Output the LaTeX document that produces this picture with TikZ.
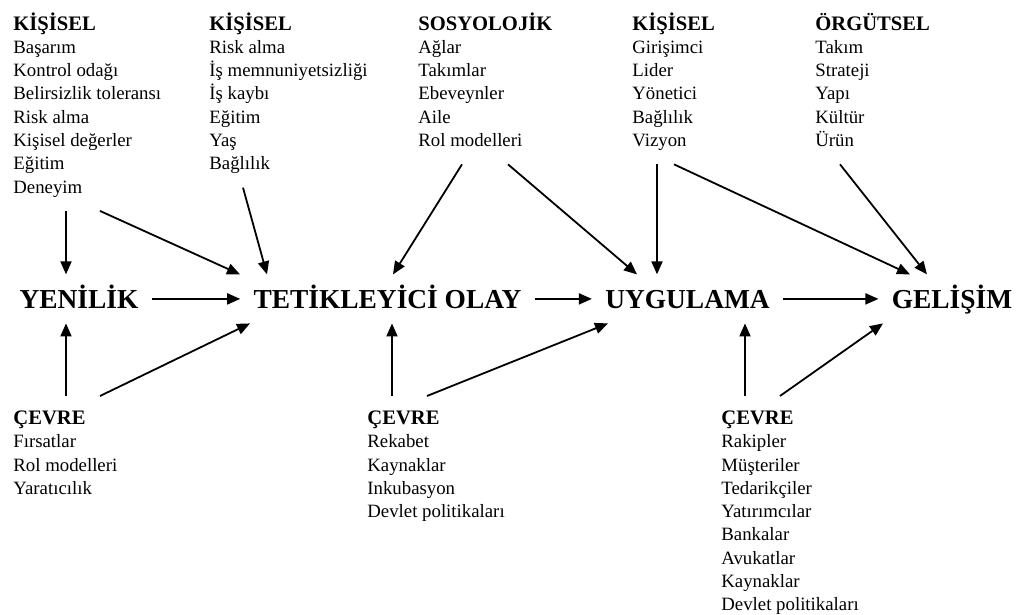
\documentclass[tikz,border=0pt]{standalone}
\usepackage{fontspec}
\setmainfont{Liberation Serif}
\newfontfamily\anafont{Liberation Serif}[BoldFont={Liberation Serif Bold}]
\usetikzlibrary{arrows.meta, calc, positioning}

\newcommand{\baslik}[1]{{\fontsize{10.3}{11.65}\selectfont\bfseries\vphantom{İ}#1}}

\begin{document}
\begin{tikzpicture}[
    x=0.5pt, y=-0.5pt,
    grup/.style={
        anchor=north west, align=left, inner xsep=0pt, inner ysep=5.2pt,
        font=\fontsize{9.4}{11.65}\selectfont
    },
    ana/.style={
        anchor=base, inner xsep=6.5pt, inner ysep=5pt,
        text height=11.6pt, text depth=2.5pt,
        font=\anafont\bfseries\fontsize{13.7}{16}\selectfont
    },
    ok/.style={-{Triangle[length=6.5pt,width=5.5pt]}, line width=0.9pt}
]
    \useasboundingbox (0,0) rectangle (1019,615);

    % Main stages, one baseline
    \node[ana] (yenilik) at (79,308) {YENİLİK};
    \node[ana] (tetik) at (387.5,308) {TETİKLEYİCİ OLAY};
    \node[ana] (uygulama) at (687.5,308) {UYGULAMA};
    \node[ana] (gelisim) at (952,308) {GELİŞİM};

    \draw[ok] (yenilik.east) -- (tetik.west);
    \draw[ok] (tetik.east) -- (uygulama.west);
    \draw[ok] (uygulama.east) -- (gelisim.west);

    % Factors above the stages
    \node[grup] (kisA) at (13,1.6) {\baslik{KİŞİSEL}\\Başarım\\Kontrol odağı\\Belirsizlik toleransı\\Risk alma\\Kişisel değerler\\Eğitim\\Deneyim\strut};
    \node[grup] (kisB) at (209,1.6) {\baslik{KİŞİSEL}\\Risk alma\\İş memnuniyetsizliği\\İş kaybı\\Eğitim\\Yaş\\Bağlılık\strut};
    \node[grup] (sosyo) at (418,1.6) {\baslik{SOSYOLOJİK}\\Ağlar\\Takımlar\\Ebeveynler\\Aile\\Rol modelleri\strut};
    \node[grup] (kisC) at (632,1.6) {\baslik{KİŞİSEL}\\Girişimci\\Lider\\Yönetici\\Bağlılık\\Vizyon\strut};
    \node[grup] (orgut) at (815,1.6) {\baslik{ÖRGÜTSEL}\\Takım\\Strateji\\Yapı\\Kültür\\Ürün\strut};

    % Factors below the stages
    \node[grup] (cevreA) at (13,396) {\baslik{ÇEVRE}\\Fırsatlar\\Rol modelleri\\Yaratıcılık};
    \node[grup] (cevreB) at (367,396) {\baslik{ÇEVRE}\\Rekabet\\Kaynaklar\\Inkubasyon\\Devlet politikaları};
    \node[grup] (cevreC) at (721,396) {\baslik{ÇEVRE}\\Rakipler\\Müşteriler\\Tedarikçiler\\Yatırımcılar\\Bankalar\\Avukatlar\\Kaynaklar\\Devlet politikaları};

    % Arrows from the top
    \draw[ok] (66,0 |- kisA.south) -- (66,0 |- yenilik.north);
    \draw[ok] (100,0 |- kisA.south) -- (240,0 |- tetik.north);
    \draw[ok] (243,0 |- kisB.south) -- (267,0 |- tetik.north);
    \draw[ok] (462,0 |- sosyo.south) -- (393,0 |- tetik.north);
    \draw[ok] (508,0 |- sosyo.south) -- (637,0 |- uygulama.north);
    \draw[ok] (657,0 |- kisC.south) -- (657,0 |- uygulama.north);
    \draw[ok] (674,0 |- kisC.south) -- (910,0 |- gelisim.north);
    \draw[ok] (840,0 |- orgut.south) -- (927,0 |- gelisim.north);

    % Arrows from the bottom
    \draw[ok] (66,0 |- cevreA.north) -- (66,0 |- yenilik.south);
    \draw[ok] (100,0 |- cevreA.north) -- (250,0 |- tetik.south);
    \draw[ok] (392,0 |- cevreB.north) -- (392,0 |- tetik.south);
    \draw[ok] (427,0 |- cevreB.north) -- (608,0 |- uygulama.south);
    \draw[ok] (745,0 |- cevreC.north) -- (745,0 |- uygulama.south);
    \draw[ok] (780,0 |- cevreC.north) -- (883,0 |- gelisim.south);
\end{tikzpicture}
\end{document}
